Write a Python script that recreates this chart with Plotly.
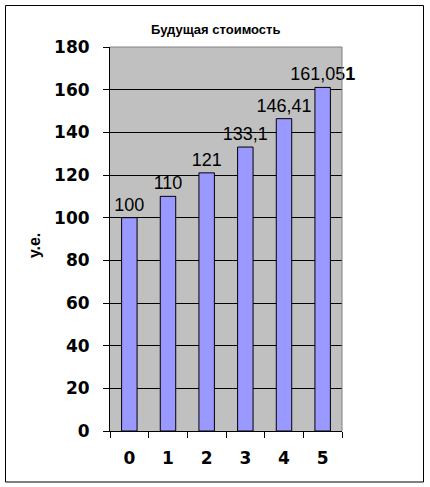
import plotly.graph_objects as go

categories = ["0", "1", "2", "3", "4", "5"]
values = [100, 110, 121, 133.1, 146.41, 161.051]
value_labels = ["100", "110", "121", "133,1", "146,41", "161,05<b>1</b>"]
y_ticks = [0, 20, 40, 60, 80, 100, 120, 140, 160, 180]
title_text = "Будущая стоимость"
y_title = "у.е."

W, H = 430, 487
L, R, T, B = 110, 342, 47, 431  # plot area in px


def px(x):
    return (x - L) / (R - L)


def py(y):
    return (B - y) / (B - T)


fig = go.Figure()
fig.add_trace(go.Bar(
    x=categories, y=values,
    text=value_labels, textposition="outside", constraintext="none",
    textfont=dict(family="Liberation Sans, Arial", size=18, color="black"),
    marker=dict(color="#9999FF", line=dict(color="black", width=1)),
    cliponaxis=False,
))

fig.update_layout(
    width=W, height=H,
    margin=dict(l=L, r=W - R, t=T, b=H - B, pad=0),
    paper_bgcolor="white", plot_bgcolor="#C0C0C0",
    bargap=0.6, showlegend=False,
    xaxis=dict(type="category", tickson="boundaries", ticks="outside", ticklen=6,
               tickcolor="black", showline=True, linecolor="black", linewidth=1,
               showgrid=False,
               tickfont=dict(family="DejaVu Sans", size=17, color="black", weight="bold"),
               ticklabelstandoff=12),
    yaxis=dict(range=[0, 180], tickvals=y_ticks, ticks="outside", ticklen=6,
               tickcolor="black", showline=True, linecolor="black", linewidth=1,
               showgrid=True, gridcolor="black", gridwidth=1, zeroline=False,
               tickfont=dict(family="DejaVu Sans", size=17, color="black", weight="bold"),
               ticklabelstandoff=10),
)

fig.add_shape(type="line", xref="paper", yref="paper", x0=0, x1=1, y0=1, y1=1,
              line=dict(color="#808080", width=1), layer="above")
fig.add_shape(type="line", xref="paper", yref="paper", x0=1, x1=1, y0=0, y1=1,
              line=dict(color="#808080", width=1), layer="above")
# chart border
fig.add_shape(type="rect", xref="paper", yref="paper",
              x0=px(5.5), x1=px(423.5), y0=py(482), y1=py(5.5),
              line=dict(color="black", width=1), layer="above")

fig.add_annotation(text=f"<b>{title_text}</b>", xref="paper", yref="paper",
                   x=px(215), y=py(29), xanchor="center", yanchor="middle",
                   showarrow=False,
                   font=dict(family="Liberation Sans, Arial", size=13, color="black"))
fig.add_annotation(text=f"<b>{y_title}</b>", xref="paper", yref="paper",
                   x=px(34), y=py(246), xanchor="center", yanchor="middle",
                   showarrow=False, textangle=-90,
                   font=dict(family="Liberation Sans, Arial", size=16, color="black"))

fig.write_html("out.html", post_script="document.body.style.margin='0';",
               config={"displayModeBar": False})
